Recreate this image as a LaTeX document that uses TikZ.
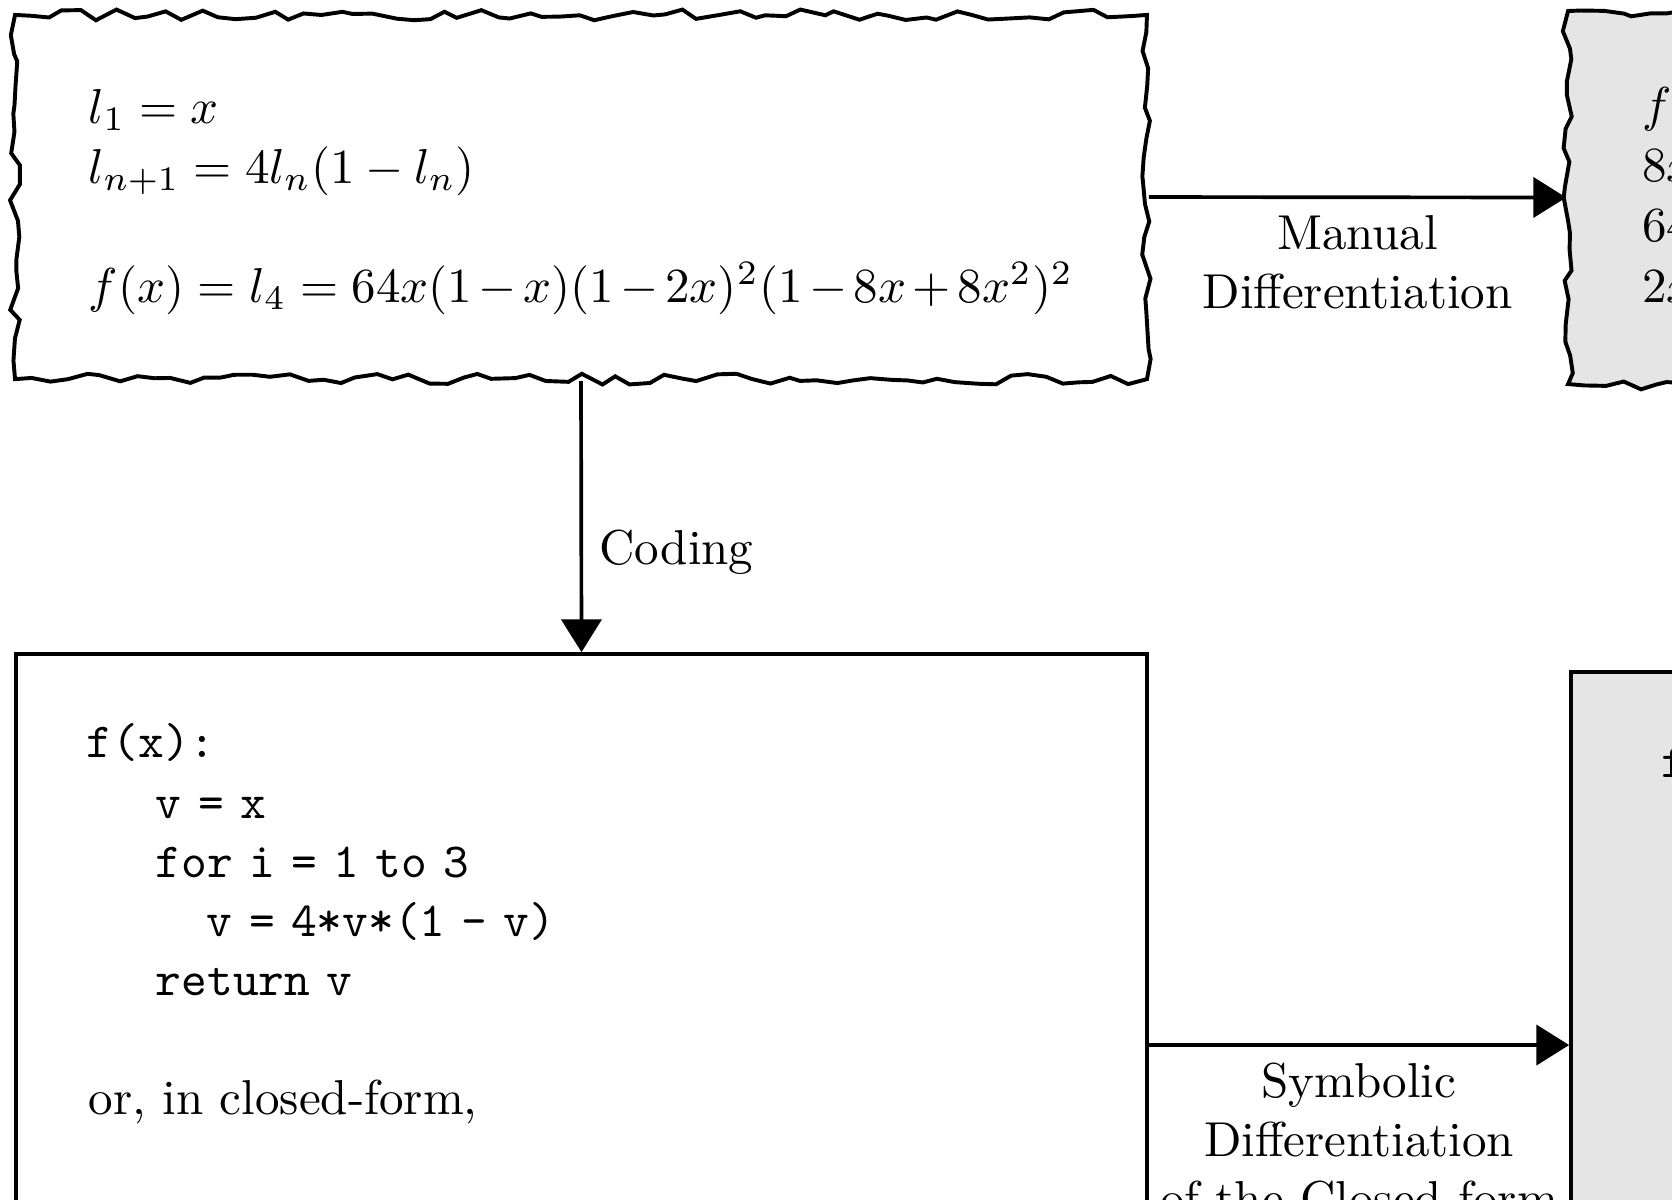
\documentclass[tikz,border=0pt]{standalone}
\usetikzlibrary{arrows.meta,decorations.pathmorphing}
\newcommand\codeline[1]{{\ttfamily\spaceskip=3.33pt\relax #1}}
\begin{document}
\begin{tikzpicture}[x=0.204pt,y=-0.204pt,
  torn/.style={draw, line width=0.8pt, inner sep=0pt, decorate,
    decoration={random steps, segment length=3.5pt, amplitude=1.1pt}},
  plainbox/.style={draw, line width=0.8pt, inner sep=0pt},
  result/.style={fill=black!10},
  conn/.style={line width=0.75pt, -{Triangle[length=6.7pt,width=8.2pt]}},
  txt/.style={anchor=base west, inner sep=0pt},
  lbl/.style={align=center},
]
\pgfmathsetseed{7}
\useasboundingbox (0,0) rectangle (1672,1199);
\clip (0,0) rectangle (1672,1199);

% boxes
\node[torn, minimum width=230.9pt, minimum height=74.3pt] (A) at (581,197) {};
\node[torn, result, minimum width=230.9pt, minimum height=76.1pt] (B) at (2134,197.5) {};
\node[plainbox, minimum width=230.7pt, minimum height=159.5pt] (C) at (581.5,1045) {};
\node[plainbox, result, minimum width=230.9pt, minimum height=152.2pt] (D) at (2137,1045) {};

% contents of A
\node[txt] (a1) at (88,123) {$l_1 = x$};
\node[txt] (a2) at (88,183) {$l_{n+1} = 4l_n(1-l_n)$};
\node[txt] (a3) at (88,302) {$\medmuskip=2.4mu f(x) = l_4 = 64x(1-x)(1-2x)^2(1-8x+8x^2)^2$};

% contents of B
\node[txt] (b1) at (1641,121) {$f'(x) = 128x(1-x)(-8+16x)(1-2x)^2(1-{}$};
\node[txt] (b2) at (1641,181) {$8x+8x^2)+64(1-x)(1-2x)^2(1-8x+8x^2)^2-{}$};
\node[txt] (b3) at (1641,241) {$64x(1-2x)^2(1-8x+8x^2)^2-256x(1-x)(1-{}$};
\node[txt] (b4) at (1641,302) {$2x)(1-8x+8x^2)^2$};

% contents of C
\node[txt] (c1) at (86,757) {\codeline{f(x):}};
\node[txt] (c2) at (155,818) {\codeline{v = x}};
\node[txt] (c3) at (155,877) {\codeline{for i = 1 to 3}};
\node[txt] (c4) at (206,936) {\codeline{v = 4*v*(1 - v)}};
\node[txt] (c5) at (155,995) {\codeline{return v}};
\node[txt] (c6) at (88,1114) {or, in closed-form,};

% contents of D
\node[txt] (d1) at (1660,777) {\codeline{f'(x) = 128*x*(1 - x)*(-8 + 16*x)}};

% connectors
\draw[conn] (A.east) -- (B.west) node[midway, below, lbl] {Manual\\Differentiation};
\draw[conn] (A.south) -- (C.north) node[pos=0.63, right] {Coding};
\draw[conn] (C.east) -- (D.west) node[midway, below, lbl] {Symbolic\\Differentiation\\of the Closed-form};
\end{tikzpicture}
\end{document}
